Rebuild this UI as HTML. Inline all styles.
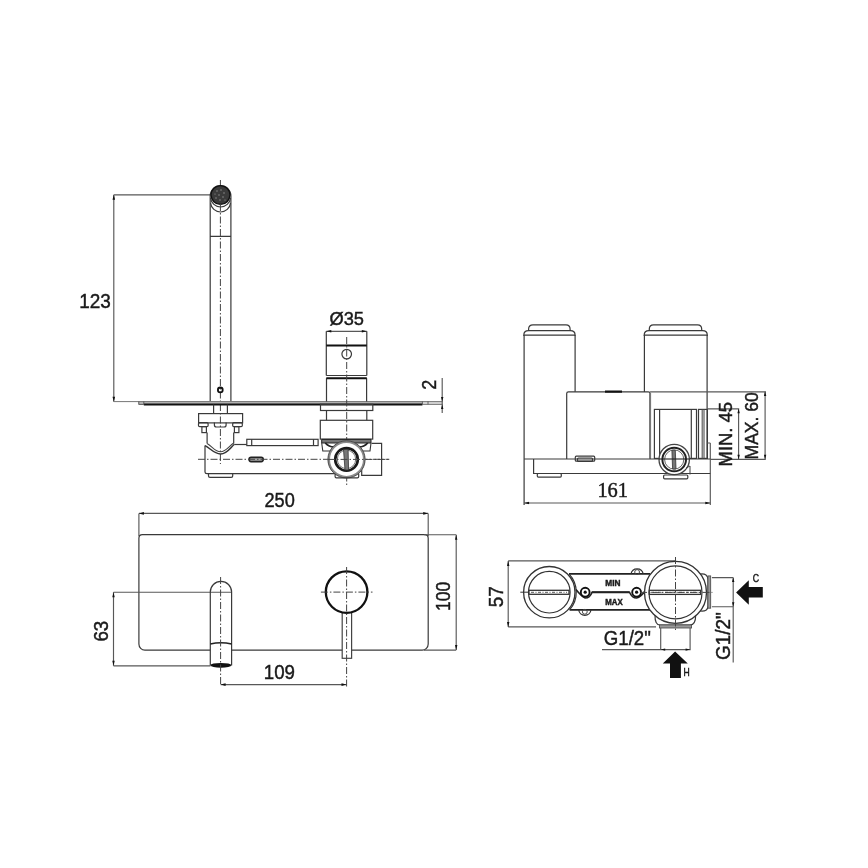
<!DOCTYPE html>
<html><head><meta charset="utf-8"><title>Drawing</title>
<style>
html,body{margin:0;padding:0;background:#fff;width:868px;height:868px;overflow:hidden;}
svg{display:block;will-change:transform;}
text{font-family:"Liberation Sans",sans-serif;fill:#1a1a1a;stroke:#1a1a1a;stroke-width:0.45;}
.s{fill:none;stroke:#3a3a3a;stroke-width:1.2;}
.g{fill:none;stroke:#585858;stroke-width:1.15;}
.k{fill:none;stroke:#111;stroke-width:2;}
.c{fill:none;stroke:#444;stroke-width:1;stroke-dasharray:7 2 1.5 2;}
.f{fill:#111;stroke:none;}
</style></head>
<body>
<svg width="868" height="868" viewBox="0 0 868 868">
<!-- ============ VIEW 1: side view ============ -->
<g id="v1">
  <!-- dim 123 -->
  <path class="g" d="M113.8,194.8V401.7 M113.8,194.8H210"/>
  <path class="f" d="M113.8,194.8l-1.3,5h2.6z M113.8,401.7l-1.3,-5h2.6z"/>
  <text x="79.3" y="307.8" font-size="20" textLength="31.6" lengthAdjust="spacingAndGlyphs">123</text>
  <!-- spout -->
  <path class="s" d="M210.2,196V401.5 M230.9,196V401.5 M210.2,236.3H230.9"/>
  <path class="s" d="M210.2,196A10.35,10.35 0 0 1 230.9,196"/>
  <circle cx="220.5" cy="195" r="9.4" fill="#3a3a3a" stroke="#111" stroke-width="1.4"/>
  <g fill="#9a9a9a"><circle cx="217" cy="191" r="0.7"/><circle cx="221" cy="190" r="0.7"/><circle cx="224" cy="193" r="0.7"/><circle cx="219" cy="195" r="0.7"/><circle cx="223" cy="197" r="0.7"/><circle cx="216" cy="198" r="0.7"/><circle cx="220" cy="200" r="0.7"/><circle cx="225" cy="200" r="0.6"/><circle cx="215" cy="194" r="0.6"/></g>
  <path class="s" d="M210.6,198A10,10 0 0 0 230.5,198 M210.6,203A10,10 0 0 0 230.5,203"/>
  <path class="c" d="M220.4,180V185 M220.4,204V464"/>
  <circle cx="220.3" cy="389.9" r="2.4" fill="none" stroke="#111" stroke-width="1.8"/>
  <!-- plate -->
  <rect x="138.3" y="401.2" width="284.1" height="3.6" fill="#b8b8b8"/>
  <rect x="422.4" y="401.6" width="20.3" height="2.8" fill="#d8d8d8"/>
  <path d="M113.8,401.6H442.7 M422.4,404.4H442.7" stroke="#777" stroke-width="1" fill="none"/>
  <path d="M143.8,404.6H422.4" stroke="#111" stroke-width="2" fill="none"/>
  <path d="M138.8,401.4V404.4H143.8 M143.8,401.4V404.6 M422.4,401.4V404.6 M428,401.4V404.4" stroke="#555" stroke-width="0.9" fill="none"/>
  <!-- dim 2 -->
  <path class="g" d="M442.2,378V413"/>
  <path class="f" d="M442.2,401.5l-1.2,-4.5h2.4z M442.2,404.5l-1.2,4.5h2.4z"/>
  <text font-size="20" transform="translate(436.2,379.8) rotate(-90)" x="-10" y="0" textLength="10" lengthAdjust="spacingAndGlyphs">2</text>
  <!-- under-plate spout fittings -->
  <path class="s" d="M213.6,404.5V413.6 M227.4,404.5V413.6"/>
  <rect class="s" x="198.6" y="413.6" width="44" height="9.3"/>
  <rect class="s" x="198.5" y="422.6" width="9.6" height="4" rx="1.2"/>
  <path class="s" d="M214.4,422.6V425Q214.4,427 216.4,427H224.1Q226.1,427 226.1,425V422.6"/>
  <rect class="s" x="232.7" y="422.6" width="9.6" height="4" rx="1.2"/>
  <rect class="s" x="201.9" y="426.6" width="4.5" height="6"/>
  <rect class="s" x="234.4" y="426.6" width="4.5" height="6"/>
  <path class="s" d="M207.1,432.6V443.5 M233.7,432.6V443.5"/>
  <path d="M205,445.6C210,448 214,453.9 220.6,453.9C227,453.9 230,448 234.4,444.2" stroke="#333" stroke-width="1.5" fill="none"/>
  <path d="M207.1,443.5C212,446 215,451.8 220.6,451.8C226,451.8 229,446 233.7,443" stroke="#444" stroke-width="1.1" fill="none"/>
  <path class="s" d="M205,445.6V472 Q205,473.6 207,473.6H335"/>
  <path class="s" d="M234.4,444.5H246.8"/>
  <rect class="s" x="246.8" y="439.3" width="71.3" height="6.3"/>
  <path class="s" d="M251.7,439.3v6.3 M313.5,439.3v6.3"/>
  <rect x="249.1" y="457.4" width="14.1" height="4.2" rx="2" fill="#aaa" stroke="#222" stroke-width="1.6"/>
  <path class="c" d="M198,459.3H389.3"/>
  <path class="s" d="M208.5,473.6V476Q208.5,477.4 210,477.4H231.2Q232.7,477.4 232.7,476V473.6"/>
  <!-- handle -->
  <text x="329.5" y="324.8" font-size="19" textLength="34.5" lengthAdjust="spacingAndGlyphs">Ø35</text>
  <path class="g" d="M326.3,331.3H366.8"/>
  <path class="f" d="M326.3,331.3l5,-1.3v2.6z M366.8,331.3l-5,-1.3v2.6z"/>
  <path class="s" d="M326.3,331.3V375.5 M366.8,331.3V375.5 M326.5,378.3V401.5 M366.6,378.3V401.5"/>
  <path class="k" d="M326.3,345.5H366.8 M326.3,378.3H366.8"/>
  <path class="s" d="M326.3,375.5H366.8"/>
  <circle class="s" cx="346.7" cy="354.1" r="4.8"/>
  <path class="c" d="M346.7,337V485"/>
  <rect class="s" x="320.5" y="404.3" width="52.3" height="6.2"/>
  <path class="s" d="M326.5,410.5V420.3 M366.8,410.5V420.3"/>
  <rect class="s" x="320.3" y="420.3" width="52.4" height="18.8"/>
  <path d="M321.7,439.4H371V443H321.7Z" fill="#777" stroke="#222" stroke-width="1"/>
  <path d="M321.7,443L322.8,451H333 M371,443L370,451H360" stroke="#333" stroke-width="1.1" fill="none"/>
  <path d="M325.3,443Q329,447 334,447 M367.7,443Q364,447 359,447" stroke="#222" stroke-width="1.8" fill="none"/>
  <path class="s" d="M371.6,443.3H381.6V475.4H361.7V470"/>
  <circle cx="346.5" cy="459.4" r="17.6" fill="#fff" stroke="#8a8a8a" stroke-width="2.2"/>
  <circle cx="346.5" cy="459.4" r="18.6" fill="none" stroke="#444" stroke-width="0.9"/>
  <circle cx="346.5" cy="459.4" r="11.3" fill="none" stroke="#1a1a1a" stroke-width="2.6"/>
  <circle cx="346.5" cy="459.4" r="9.2" fill="none" stroke="#777" stroke-width="1"/>
  <path d="M343.5,449.5L345,470h3.6L348.1,449.5z" fill="#777" stroke="#333" stroke-width="0.8"/>
  <path class="c" d="M328,459.4H389.3"/>
  <path class="s" d="M335.1,473.8V476.5Q335.1,477.8 336.4,477.8H357.4Q358.7,477.8 358.7,476.5V473.8"/>
</g>

<!-- ============ VIEW 2: rear/top-right view ============ -->
<g id="v2">
  <!-- left cylinder -->
  <path class="s" d="M524.1,505V335.2 M575.1,335.2V391.8"/>
  <path class="s" d="M523.8,336V335 Q523.8,330.6 528.6,330.6H570.3Q575.1,330.6 575.1,335V336 M524.1,335.2H575.1"/>
  <path class="s" d="M528.6,330.6V329 Q528.6,324.8 533,324.8H566Q570.1,324.8 570.1,329V330.6"/>
  <!-- right cylinder -->
  <path class="s" d="M644.4,335.2V392 M707.1,335.2V459"/>
  <path class="s" d="M644.2,336V335 Q644.2,330.6 649,330.6H702.5Q707.3,330.6 707.3,335V336 M644.4,335.2H707.1"/>
  <path class="s" d="M649.3,330.6V329 Q649.3,324.8 653.5,324.8H697.5Q701.7,324.8 701.7,329V330.6"/>
  <!-- middle box -->
  <path class="s" d="M566.7,459V393.5Q566.7,391.8 568.5,391.8H648.3Q650.1,391.8 650.1,393.5V459"/>
  <path d="M650.1,393V458.5" stroke="#777" stroke-width="2"/>
  <path d="M605,391.6H622" stroke="#111" stroke-width="2.2"/>
  <path class="g" d="M650.1,391.8H765.8"/>
  <!-- fitting -->
  <rect class="s" x="654.4" y="409.4" width="42.1" height="49"/>
  <path class="s" d="M659.6,409.4V458.4 M691.3,409.4V458.4"/>
  <rect class="s" x="698.5" y="409.4" width="8.9" height="49"/>
  <path class="g" d="M702.2,409.4V458.4 M704,409.4V458.4"/>
  <path class="g" d="M710.3,443V505 M707.1,443H710.3"/>
  <path class="s" d="M524.1,459H710.3"/>
  <!-- base -->
  <path class="s" d="M533.6,459V473.5H710.3"/>
  <rect class="s" x="537.3" y="473.5" width="24" height="3.6" rx="1"/>
  <rect class="s" x="575.3" y="456.2" width="19.4" height="5" rx="1"/>
  <rect class="s" x="577.5" y="458" width="15" height="3.4" rx="1"/>
  <circle cx="674.2" cy="459.5" r="15.2" fill="#fff" stroke="#444" stroke-width="1.3"/>
  <circle cx="674.2" cy="459.5" r="11.8" fill="none" stroke="#222" stroke-width="2"/>
  <circle cx="674.2" cy="459.5" r="9.6" fill="none" stroke="#555" stroke-width="0.9"/>
  <path d="M671.9,450.2L672.6,469h3.4L675.3,450.2z" fill="#777" stroke="#333" stroke-width="0.8"/>
  <path d="M686,468L690,466V474.5" stroke="#444" stroke-width="1" fill="none"/>
  <path d="M659,459H689.5" stroke="#222" stroke-width="1.1"/>
  <rect class="s" x="663.6" y="475" width="24.2" height="3.8" rx="1"/>
  <!-- dim 161 -->
  <path class="g" d="M524.1,503H710.3"/>
  <path class="f" d="M524.1,503l5,-1.3v2.6z M710.3,503l-5,-1.3v2.6z"/>
  <text x="597.4" y="497" font-size="20" font-family="Liberation Serif" style="font-family:'Liberation Serif',serif" textLength="30.6" lengthAdjust="spacingAndGlyphs">161</text>
  <!-- MIN 45 / MAX 60 -->
  <path class="g" d="M707.4,408.8H739.2 M738.6,408.8V459.3 M710.3,459.3H765.8 M765.1,391.5V459.3"/>
  <path class="f" d="M738.6,408.8l-1.2,4.5h2.4z M738.6,459.3l-1.2,-4.5h2.4z M765.1,391.5l-1.2,4.5h2.4z M765.1,459.3l-1.2,-4.5h2.4z"/>
  <text font-size="19" transform="translate(732.3,466.4) rotate(-90)" x="0" y="0" textLength="64.5" lengthAdjust="spacingAndGlyphs">MIN. 45</text>
  <text font-size="19" transform="translate(758.2,459.5) rotate(-90)" x="0" y="0" textLength="67.4" lengthAdjust="spacingAndGlyphs">MAX. 60</text>
</g>

<!-- ============ VIEW 3: front view ============ -->
<g id="v3">
  <path class="g" d="M138.9,513.4H428.2 M138.9,513.4V536 M428.2,513.4V536"/>
  <path class="f" d="M138.9,513.4l5,-1.3v2.6z M428.2,513.4l-5,-1.3v2.6z"/>
  <text x="264.5" y="507.2" font-size="20" textLength="30.3" lengthAdjust="spacingAndGlyphs">250</text>
  <path class="s" d="M142.4,534.7H424.7A3.5,3.5 0 0 1 428.2,538.2V644.1A6,6 0 0 1 422.2,650.1H144.9A6,6 0 0 1 138.9,644.1V538.2A3.5,3.5 0 0 1 142.4,534.7Z"/>
  <path class="g" d="M424,534.7H456.2 M424,650.1H456.2 M456.2,534.7V650.1"/>
  <path class="f" d="M456.2,534.7l-1.2,5h2.4z M456.2,650.1l-1.2,-5h2.4z"/>
  <text font-size="20" transform="translate(449.5,610.9) rotate(-90)" x="0" y="0" textLength="29.2" lengthAdjust="spacingAndGlyphs">100</text>
  <!-- dim 63 -->
  <path class="g" d="M113.5,592.2V665.8 M113.5,592.2H232 M113.5,665.8H210.5"/>
  <path class="f" d="M113.5,592.2l-1.2,5h2.4z M113.5,665.8l-1.2,-5h2.4z"/>
  <text font-size="20" transform="translate(108,641.6) rotate(-90)" x="0" y="0" textLength="20.8" lengthAdjust="spacingAndGlyphs">63</text>
  <!-- spout -->
  <rect x="210.3" y="646" width="21.3" height="8" fill="#fff"/>
  <path class="s" d="M210.3,665.5V592 A10.65,10.65 0 0 1 231.6,592V665.5"/>
  <path d="M210.3,644Q220.9,641.5 231.6,644" stroke="#222" stroke-width="1.6" fill="none"/>
  <ellipse cx="220.9" cy="665.3" rx="10.4" ry="2.4" fill="#111"/>
  <path class="c" d="M220.6,577V686"/>
  <!-- dim 109 -->
  <path class="g" d="M220.6,684.6H346.5"/>
  <path class="f" d="M220.6,684.6l5,-1.3v2.6z M346.5,684.6l-5,-1.3v2.6z"/>
  <text x="263.8" y="678.7" font-size="21" textLength="31.2" lengthAdjust="spacingAndGlyphs">109</text>
  <!-- handle -->
  <rect x="342.2" y="612" width="9.4" height="46.3" fill="#fff" stroke="#444" stroke-width="1.2"/>
  <circle cx="346.6" cy="592.1" r="20.8" fill="#fff" stroke="#111" stroke-width="2.3"/>
  <path class="c" d="M320.9,592.1H372.5 M346.6,567V688"/>
</g>

<!-- ============ VIEW 4: plan view of body ============ -->
<g id="v4">
  <!-- dim 57 -->
  <path class="g" d="M508.2,560.9V627 M508.2,560.9H676 M508.2,626.8H656"/>
  <path class="f" d="M508.2,560.9l-1.2,5h2.4z M508.2,627l-1.2,-5h2.4z"/>
  <text font-size="20" transform="translate(503,607.3) rotate(-90)" x="0" y="0" textLength="21" lengthAdjust="spacingAndGlyphs">57</text>
  <!-- body -->
  <path d="M569,573.9H650 M569.6,609.9H650" stroke="#222" stroke-width="1.8" fill="none"/>
  <path d="M569,573.9A26.8,26.8 0 0 1 569.6,609.9" stroke="#333" stroke-width="1.2" fill="none"/>
  <path d="M631,573.9A6.2,6.2 0 0 1 643.2,573.9 M578.7,609.9A6.2,6.2 0 0 0 591,609.9" stroke="#333" stroke-width="1.2" fill="none"/>
  <circle cx="637.1" cy="572" r="2.4" fill="none" stroke="#444" stroke-width="1"/>
  <circle cx="584.8" cy="611.8" r="2.4" fill="none" stroke="#444" stroke-width="1"/>
  <path d="M576,589.5Q581,596 585.2,598 Q590,598 592,592.2H629.5Q632,598 636.6,598Q641,597 645,591" stroke="#222" stroke-width="1.6" fill="none"/>
  <path d="M592,592.2H629.5" stroke="#222" stroke-width="2"/>
  <circle cx="585.2" cy="592.2" r="4.4" fill="#fff" stroke="#111" stroke-width="1.9"/>
  <circle cx="636.6" cy="592.2" r="4.4" fill="#fff" stroke="#111" stroke-width="1.9"/>
  <circle cx="585.2" cy="592.2" r="1.6" fill="#111"/>
  <circle cx="636.6" cy="592.2" r="1.6" fill="#111"/>
  <text x="605.3" y="585.7" font-size="8.6" font-weight="bold" stroke="#1a1a1a" stroke-width="0.6" textLength="15.2" lengthAdjust="spacingAndGlyphs">MIN</text>
  <text x="605.3" y="605.1" font-size="8.6" font-weight="bold" stroke="#1a1a1a" stroke-width="0.6" textLength="17.4" lengthAdjust="spacingAndGlyphs">MAX</text>
  <!-- left circle -->
  <circle cx="549.3" cy="592.2" r="25.7" fill="#fff" stroke="#333" stroke-width="1.3"/>
  <circle cx="549.3" cy="592.2" r="20.8" fill="none" stroke="#333" stroke-width="1.2"/>
  <rect x="529" y="590.3" width="40" height="4" fill="#fff" stroke="#333" stroke-width="1.3"/>
  <path d="M531,592.3H567" stroke="#555" stroke-width="1" stroke-dasharray="3 1.5 1 1.5"/>
  <path d="M520.3,592.2H529" stroke="#333" stroke-width="1"/>
  <!-- right fitting -->
  <path class="s" d="M700,574Q708,573 708,580V606Q708,612 700,611"/>
  <rect x="707.9" y="575.9" width="2.8" height="32.3" fill="#999" stroke="#444" stroke-width="0.8"/>
  <path class="g" d="M711.9,577.6H733.2 M711.9,606.7H733.2 M733.2,577.6V662.4"/>
  <path class="f" d="M733.2,577.6l-1.2,4.5h2.4z M733.2,606.7l-1.2,-4.5h2.4z"/>
  <!-- bottom fitting -->
  <path class="s" d="M655,615Q654.8,625 660,625H690Q695.7,625 695.7,615"/>
  <rect x="659.4" y="624.9" width="32.2" height="3.1" fill="#999" stroke="#444" stroke-width="0.8"/>
  <path class="g" d="M660.7,628V649.6 M690.1,628V649.6 M602,649.6H690.7"/>
  <path class="f" d="M660.7,649.6l4.5,-1.2v2.4z M690.1,649.6l-4.5,-1.2v2.4z"/>
  <!-- right circle -->
  <circle cx="675.5" cy="592.4" r="31" fill="#fff" stroke="#333" stroke-width="1.3"/>
  <circle cx="675.5" cy="592.4" r="26.5" fill="none" stroke="#333" stroke-width="1.2"/>
  <rect x="649.3" y="590.3" width="51.3" height="4.1" fill="#fff" stroke="#333" stroke-width="1.3"/>
  <path d="M651,592.3H699" stroke="#555" stroke-width="1" stroke-dasharray="3 1.5 1 1.5"/>
  <path class="c" d="M675.5,557V630 M640,592.4H712.4"/>
  <text x="603.8" y="644.5" font-size="20" textLength="47" lengthAdjust="spacingAndGlyphs">G1/2"</text>
  <text font-size="20" transform="translate(730.4,660.1) rotate(-90)" x="0" y="0" textLength="47.8" lengthAdjust="spacingAndGlyphs">G1/2"</text>
  <!-- arrows -->
  <path class="f" d="M675.1,651.5L687.8,663.6H680.9V678H670V663.6H662.8Z"/>
  <text x="683.6" y="675.7" font-size="10.5" stroke="none" textLength="6.2" lengthAdjust="spacingAndGlyphs">H</text>
  <path class="f" d="M736.1,592.4L748.8,580.2V587.1H762.8V597.5H748.8V604.7Z"/>
  <text x="752.8" y="581.7" font-size="10.5" stroke="none" textLength="6.3" lengthAdjust="spacingAndGlyphs">C</text>
</g>
</svg>
</body></html>
